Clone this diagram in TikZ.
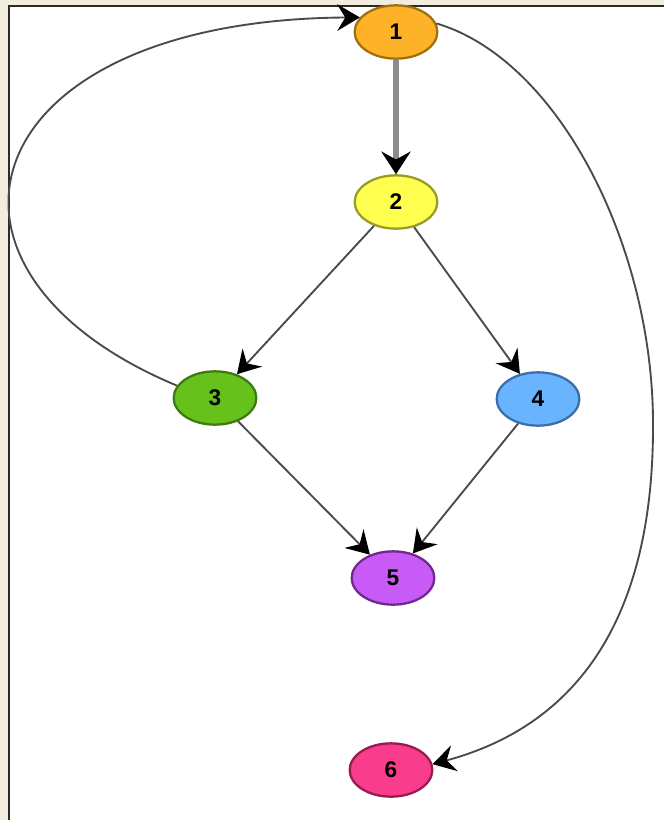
\documentclass[tikz,border=0pt]{standalone}
\usepackage{fontspec}
\setmainfont{Liberation Sans}
\usetikzlibrary{arrows.meta,shapes.geometric}
\definecolor{cream}{HTML}{F1EEE0}
\definecolor{frameline}{HTML}{2D2A1F}
\definecolor{edgegray}{HTML}{4A4A4A}
\definecolor{thickgray}{HTML}{8C8C8C}
\definecolor{fa}{HTML}{FDB228}\definecolor{ba}{HTML}{A07010}
\definecolor{fb}{HTML}{FFFF50}\definecolor{bb}{HTML}{9A9A28}
\definecolor{fc}{HTML}{66C21A}\definecolor{bc}{HTML}{3D7A10}
\definecolor{fd}{HTML}{6AB4FF}\definecolor{bd}{HTML}{3A6EA8}
\definecolor{fe}{HTML}{C85AF5}\definecolor{be}{HTML}{6E2890}
\definecolor{ff}{HTML}{FA3C8C}\definecolor{bf}{HTML}{961C50}
\tikzset{
  vert/.style={ellipse, draw=#1, line width=1.7pt, minimum width=62pt, minimum height=40pt, inner sep=0pt,
    font=\fontsize{17}{19}\selectfont\bfseries},
  arr/.style={draw=edgegray, line width=1.4pt, -{Stealth[length=17pt,width=20pt,inset=6pt,color=black]}},
  thickarr/.style={draw=thickgray, line width=3.8pt, -{Stealth[length=17pt,width=22pt,inset=6pt,color=black]}}
}
\begin{document}
\begin{tikzpicture}[x=0.75pt,y=-0.75pt]
\useasboundingbox (0,0) rectangle (664,820);
\fill[cream] (0,0) rectangle (664,820);
\fill[white] (9,6) rectangle (664,820);
\draw[frameline, line width=2.2pt] (9,820) -- (9,6) -- (664,6);

\node[vert=ba, fill=fa] (n1) at (396,32) {1};
\node[vert=bb, fill=fb] (n2) at (396,202) {2};
\node[vert=bc, fill=fc] (n3) at (215,398) {3};
\node[vert=bd, fill=fd] (n4) at (538,399) {4};
\node[vert=be, fill=fe] (n5) at (393,578) {5};
\node[vert=bf, fill=ff] (n6) at (391,770) {6};

\coordinate (r) at (653,430);

\draw[thickarr] (n1) -- (n2);
\draw[arr] (n2) -- (n3);
\draw[arr] (n2) -- (n4);
\draw[arr] (n3) -- (n5);
\draw[arr] (n4) -- (n5);
\draw[arr] (n3.162) .. controls (-100,270) and (-30,20) .. (n1.158);
\draw[draw=edgegray, line width=1.4pt] (n1.12) .. controls (560,60) and (655,250) .. (r);
\draw[arr] (r) .. controls (652,640) and (560,730) .. (n6.8);
\end{tikzpicture}
\end{document}
